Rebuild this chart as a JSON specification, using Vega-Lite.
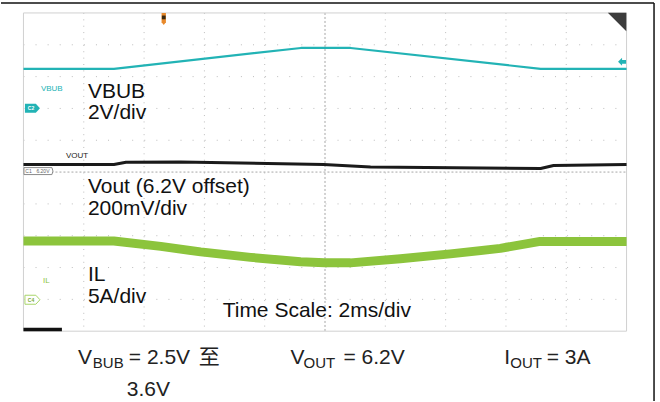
{
  "$schema": "https://vega.github.io/schema/vega-lite/v6.json",
  "width": 660,
  "height": 402,
  "autosize": {"type": "fit", "contains": "padding"},
  "padding": 0,
  "background": "white",
  "view": {"stroke": null},
  "config": {"font": "Liberation Sans, Noto Sans CJK SC"},
  "datasets": {
    "grid": [
      {"kind": "vdot", "t": -8, "v": 5, "t2": -8, "v2": -5},
      {"kind": "vdot", "t": -6, "v": 5, "t2": -6, "v2": -5},
      {"kind": "vdot", "t": -4, "v": 5, "t2": -4, "v2": -5},
      {"kind": "vdot", "t": -2, "v": 5, "t2": -2, "v2": -5},
      {"kind": "vdot", "t": 2, "v": 5, "t2": 2, "v2": -5},
      {"kind": "vdot", "t": 4, "v": 5, "t2": 4, "v2": -5},
      {"kind": "vdot", "t": 6, "v": 5, "t2": 6, "v2": -5},
      {"kind": "vdot", "t": 8, "v": 5, "t2": 8, "v2": -5},
      {"kind": "hdot", "t": -10, "v": 4, "t2": 10, "v2": 4},
      {"kind": "hdot", "t": -10, "v": 3, "t2": 10, "v2": 3},
      {"kind": "hdot", "t": -10, "v": 2, "t2": 10, "v2": 2},
      {"kind": "hdot", "t": -10, "v": 1, "t2": 10, "v2": 1},
      {"kind": "hdot", "t": -10, "v": -1, "t2": 10, "v2": -1},
      {"kind": "hdot", "t": -10, "v": -2, "t2": 10, "v2": -2},
      {"kind": "hdot", "t": -10, "v": -3, "t2": 10, "v2": -3},
      {"kind": "hdot", "t": -10, "v": -4, "t2": 10, "v2": -4},
      {"kind": "center", "t": 0, "v": 5, "t2": 0, "v2": -5},
      {"kind": "center", "t": -10, "v": 0, "t2": 10, "v2": 0},
      {"kind": "border", "t": -10, "v": 5, "t2": -10, "v2": -5},
      {"kind": "border", "t": 10, "v": 5, "t2": 10, "v2": -5},
      {"kind": "border", "t": -10, "v": 5, "t2": 10, "v2": 5},
      {"kind": "border", "t": -10, "v": -5, "t2": 10, "v2": -5},
      {"kind": "frame", "t": -10.745, "v": 5.313, "t2": 10.911, "v2": 5.313},
      {"kind": "frame", "t": 10.911, "v": 5.313, "t2": 10.911, "v2": -7.194}
    ],
    "traces": [
      {"series": "VBUB", "t": -10, "v": 3.245},
      {"series": "VBUB", "t": -7.0, "v": 3.245},
      {"series": "VBUB", "t": -0.8, "v": 3.9},
      {"series": "VBUB", "t": 0.85, "v": 3.9},
      {"series": "VBUB", "t": 7.15, "v": 3.245},
      {"series": "VBUB", "t": 10, "v": 3.245},
      {"series": "VOUT", "t": -10, "v": 0.235},
      {"series": "VOUT", "t": -7.0, "v": 0.235},
      {"series": "VOUT", "t": -6.6, "v": 0.307},
      {"series": "VOUT", "t": -4.79, "v": 0.32},
      {"series": "VOUT", "t": -0.05, "v": 0.235},
      {"series": "VOUT", "t": 1.51, "v": 0.157},
      {"series": "VOUT", "t": 7.15, "v": 0.11},
      {"series": "VOUT", "t": 7.58, "v": 0.204},
      {"series": "VOUT", "t": 10, "v": 0.235},
      {"series": "IL", "t": -10, "v": -2.169},
      {"series": "IL", "t": -7.003, "v": -2.169},
      {"series": "IL", "t": -5.447, "v": -2.335},
      {"series": "IL", "t": -4.123, "v": -2.508},
      {"series": "IL", "t": -2.467, "v": -2.68},
      {"series": "IL", "t": -0.811, "v": -2.821},
      {"series": "IL", "t": -0.017, "v": -2.853},
      {"series": "IL", "t": 0.844, "v": -2.853},
      {"series": "IL", "t": 2.5, "v": -2.727},
      {"series": "IL", "t": 4.156, "v": -2.571},
      {"series": "IL", "t": 5.811, "v": -2.398},
      {"series": "IL", "t": 7.136, "v": -2.179},
      {"series": "IL", "t": 10, "v": -2.179}
    ],
    "labels": [
      {"group": "big", "text": "VBUB", "t": -7.864, "v": 2.335},
      {"group": "big", "text": "2V/div", "t": -7.864, "v": 1.661},
      {"group": "big", "text": "Vout (6.2V offset)", "t": -7.864, "v": -0.643},
      {"group": "big", "text": "200mV/div", "t": -7.864, "v": -1.364},
      {"group": "big", "text": "IL", "t": -7.864, "v": -3.433},
      {"group": "big", "text": "5A/div", "t": -7.864, "v": -4.122},
      {"group": "big", "text": "Time Scale: 2ms/div", "t": -3.394, "v": -4.561},
      {"group": "main", "text": "V", "t": -8.195, "v": -6.034},
      {"group": "sub", "text": "BUB", "t": -7.699, "v": -6.144},
      {"group": "main", "text": "= 2.5V", "t": -6.507, "v": -6.034},
      {"group": "main", "text": "至", "t": -4.189, "v": -6.034},
      {"group": "main", "text": "3.6V", "t": -6.573, "v": -7.038},
      {"group": "main", "text": "V", "t": -1.142, "v": -6.034},
      {"group": "sub", "text": "OUT", "t": -0.712, "v": -6.144},
      {"group": "main", "text": "= 6.2V", "t": 0.61, "v": -6.034},
      {"group": "main", "text": "I", "t": 5.944, "v": -6.034},
      {"group": "sub", "text": "OUT", "t": 6.143, "v": -6.144},
      {"group": "main", "text": "= 3A", "t": 7.35, "v": -6.034},
      {"group": "tealsmall", "text": "VBUB", "t": -9.421, "v": 2.555},
      {"group": "blacksmall", "text": "VOUT", "t": -8.593, "v": 0.455},
      {"group": "greensmall", "text": "IL", "t": -9.354, "v": -3.495}
    ],
    "markers": [
      {"id": "C2", "t": -9.702, "v": 2.006},
      {"id": "C4", "t": -9.702, "v": -4.012},
      {"id": "C1", "t": -9.503, "v": 0.031},
      {"id": "trig", "t": -5.348, "v": 4.812},
      {"id": "trigin", "t": -5.348, "v": 4.86},
      {"id": "corner", "t": 9.685, "v": 4.718},
      {"id": "level", "t": 9.851, "v": 3.464}
    ],
    "tags": [
      {"id": "C2", "text": "C2", "t": -9.75, "v": 2.006},
      {"id": "C4", "text": "C4", "t": -9.75, "v": -4.012},
      {"id": "C1", "text": "C1", "t": -9.834, "v": 0.022},
      {"id": "C1", "text": "6.20V", "t": -9.354, "v": 0.022}
    ],
    "boxes": [
      {"t": -10, "t2": -8.725, "v": -4.89, "v2": -5.0}
    ]
  },
  "encoding": {
    "x": {"field": "t", "type": "quantitative", "scale": {"domain": [-10.745, 11.109], "nice": false, "zero": false}, "axis": null},
    "y": {"field": "v", "type": "quantitative", "scale": {"domain": [-7.194, 5.4075], "nice": false, "zero": false}, "axis": null}
  },
  "layer": [
    {
      "data": {"name": "grid"},
      "transform": [{"filter": "datum.kind === 'hdot'"}],
      "mark": {"type": "rule", "color": "#bdbdbd", "strokeWidth": 1, "strokeDash": [1, 11.08]},
      "encoding": {"x2": {"field": "t2"}, "y2": {"field": "v2"}}
    },
    {
      "data": {"name": "grid"},
      "transform": [{"filter": "datum.kind === 'vdot'"}],
      "mark": {"type": "rule", "color": "#bdbdbd", "strokeWidth": 1, "strokeDash": [1, 5.38]},
      "encoding": {"x2": {"field": "t2"}, "y2": {"field": "v2"}}
    },
    {
      "data": {"name": "grid"},
      "transform": [{"filter": "datum.kind === 'center'"}],
      "mark": {"type": "rule", "color": "#a6a6a6", "strokeWidth": 1, "strokeDash": [2, 2]},
      "encoding": {"x2": {"field": "t2"}, "y2": {"field": "v2"}}
    },
    {
      "data": {"name": "grid"},
      "transform": [{"filter": "datum.kind === 'border'"}],
      "mark": {"type": "rule", "color": "#d0d0d0", "strokeWidth": 1},
      "encoding": {"x2": {"field": "t2"}, "y2": {"field": "v2"}}
    },
    {
      "data": {"name": "grid"},
      "transform": [{"filter": "datum.kind === 'frame'"}],
      "mark": {"type": "rule", "color": "#111111", "strokeWidth": 1.5},
      "encoding": {"x2": {"field": "t2"}, "y2": {"field": "v2"}}
    },
    {
      "data": {"name": "traces"},
      "transform": [{"filter": "datum.series === 'IL'"}],
      "mark": {"type": "line", "color": "#8cc43c", "strokeWidth": 9, "strokeJoin": "round", "strokeCap": "butt"},
      "encoding": {}
    },
    {
      "data": {"name": "traces"},
      "transform": [{"filter": "datum.series === 'VOUT'"}],
      "mark": {"type": "line", "color": "#1a1a1a", "strokeWidth": 3, "strokeJoin": "round", "strokeCap": "butt"},
      "encoding": {}
    },
    {
      "data": {"name": "traces"},
      "transform": [{"filter": "datum.series === 'VBUB'"}],
      "mark": {"type": "line", "color": "#22b3b5", "strokeWidth": 2.2, "strokeJoin": "round", "strokeCap": "butt"},
      "encoding": {}
    },
    {
      "data": {"name": "markers"},
      "transform": [{"filter": "datum.id === 'C2'"}],
      "mark": {"type": "point", "shape": "M-1,-0.6L0.45,-0.6L1,0L0.45,0.6L-1,0.6Z", "size": 225, "filled": true, "color": "#22b3b5", "opacity": 1}
    },
    {
      "data": {"name": "markers"},
      "transform": [{"filter": "datum.id === 'C4'"}],
      "mark": {"type": "point", "shape": "M-1,-0.6L0.45,-0.6L1,0L0.45,0.6L-1,0.6Z", "size": 225, "filled": false, "fill": "white", "stroke": "#a8d66a", "strokeWidth": 1, "opacity": 1}
    },
    {
      "data": {"name": "markers"},
      "transform": [{"filter": "datum.id === 'C1'"}],
      "mark": {"type": "point", "shape": "M-1,-0.24L0.93,-0.24L1,0L0.93,0.24L-1,0.24Z", "size": 841, "filled": false, "fill": "white", "stroke": "#8a8a8a", "strokeWidth": 1, "opacity": 1}
    },
    {
      "data": {"name": "markers"},
      "transform": [{"filter": "datum.id === 'trig'"}],
      "mark": {"type": "point", "shape": "M-0.36,-1L0.36,-1L0.36,0.55L0,1L-0.36,0.55Z", "size": 144, "filled": true, "color": "#e8892b", "opacity": 1}
    },
    {
      "data": {"name": "markers"},
      "transform": [{"filter": "datum.id === 'trigin'"}],
      "mark": {"type": "point", "shape": "square", "size": 14, "filled": true, "color": "#3a2a12", "opacity": 1}
    },
    {
      "data": {"name": "markers"},
      "transform": [{"filter": "datum.id === 'corner'"}],
      "mark": {"type": "point", "shape": "M-1,-1L1,-1L1,1Z", "size": 342, "filled": true, "color": "#3c3c3c", "opacity": 1}
    },
    {
      "data": {"name": "markers"},
      "transform": [{"filter": "datum.id === 'level'"}],
      "mark": {"type": "point", "shape": "M-1,0L0,-1L0,-0.45L1,-0.45L1,0.45L0,0.45L0,1Z", "size": 64, "filled": true, "color": "#22b3b5", "opacity": 1}
    },
    {
      "data": {"name": "boxes"},
      "mark": {"type": "rect", "color": "#111111"},
      "encoding": {"x2": {"field": "t2"}, "y2": {"field": "v2"}}
    },
    {
      "data": {"name": "tags"},
      "transform": [{"filter": "datum.id === 'C2'"}],
      "mark": {"type": "text", "fontSize": 5, "color": "white", "align": "center", "baseline": "middle", "fontWeight": "bold"},
      "encoding": {"text": {"field": "text"}}
    },
    {
      "data": {"name": "tags"},
      "transform": [{"filter": "datum.id === 'C4'"}],
      "mark": {"type": "text", "fontSize": 5, "color": "#7aaa3a", "align": "center", "baseline": "middle", "fontWeight": "bold"},
      "encoding": {"text": {"field": "text"}}
    },
    {
      "data": {"name": "tags"},
      "transform": [{"filter": "datum.id === 'C1'"}],
      "mark": {"type": "text", "fontSize": 5, "color": "#666666", "align": "center", "baseline": "middle"},
      "encoding": {"text": {"field": "text"}}
    },
    {
      "data": {"name": "labels"},
      "transform": [{"filter": "datum.group === 'big'"}],
      "mark": {"type": "text", "fontSize": 21, "color": "#111111", "align": "left", "baseline": "alphabetic"},
      "encoding": {"text": {"field": "text"}}
    },
    {
      "data": {"name": "labels"},
      "transform": [{"filter": "datum.group === 'main'"}],
      "mark": {"type": "text", "fontSize": 21, "color": "#222222", "align": "left", "baseline": "alphabetic"},
      "encoding": {"text": {"field": "text"}}
    },
    {
      "data": {"name": "labels"},
      "transform": [{"filter": "datum.group === 'sub'"}],
      "mark": {"type": "text", "fontSize": 15, "color": "#222222", "align": "left", "baseline": "alphabetic"},
      "encoding": {"text": {"field": "text"}}
    },
    {
      "data": {"name": "labels"},
      "transform": [{"filter": "datum.group === 'tealsmall'"}],
      "mark": {"type": "text", "fontSize": 8, "color": "#22b3b5", "align": "left", "baseline": "alphabetic"},
      "encoding": {"text": {"field": "text"}}
    },
    {
      "data": {"name": "labels"},
      "transform": [{"filter": "datum.group === 'blacksmall'"}],
      "mark": {"type": "text", "fontSize": 8, "color": "#222222", "align": "left", "baseline": "alphabetic"},
      "encoding": {"text": {"field": "text"}}
    },
    {
      "data": {"name": "labels"},
      "transform": [{"filter": "datum.group === 'greensmall'"}],
      "mark": {"type": "text", "fontSize": 8, "color": "#8cc43c", "align": "left", "baseline": "alphabetic"},
      "encoding": {"text": {"field": "text"}}
    }
  ]
}
